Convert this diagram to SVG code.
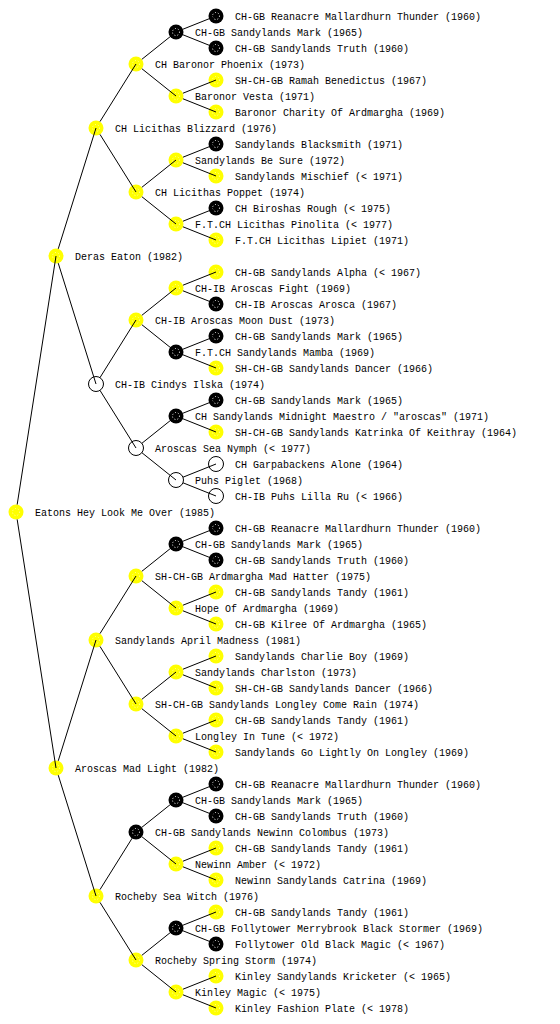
<svg xmlns="http://www.w3.org/2000/svg" width="560" height="1024" viewBox="0 0 560 1024">
<style>
text{font-family:"Liberation Mono","DejaVu Sans Mono",monospace;font-size:10px;fill:#000}
.y circle.c{fill:#ffff00;stroke:none}
.b circle.c{fill:#000;stroke:none}
.w circle.c{fill:#fff;stroke:#000;stroke-width:1}
.y circle.r{fill:none;stroke:#ffffa8;stroke-width:1;stroke-dasharray:1 2}
.b circle.r{fill:none;stroke:#fff;stroke-width:1;stroke-dasharray:1 2}
#connectors path{stroke:#000;stroke-width:1;fill:none}
</style>
<rect width="560" height="1024" fill="#fff"/>
<g id="nodes">
<g id="n0" class="y"><circle class="c" cx="16" cy="512" r="7.5"/><circle class="r" cx="16" cy="512" r="3.5"/><text x="35" y="516">Eatons Hey Look Me Over (1985)</text></g>
<g id="n1" class="y"><circle class="c" cx="56" cy="256" r="7.5"/><circle class="r" cx="56" cy="256" r="3.5"/><text x="75" y="260">Deras Eaton (1982)</text></g>
<g id="n2" class="y"><circle class="c" cx="56" cy="768" r="7.5"/><circle class="r" cx="56" cy="768" r="3.5"/><text x="75" y="772">Aroscas Mad Light (1982)</text></g>
<g id="n3" class="y"><circle class="c" cx="96" cy="128" r="7.5"/><circle class="r" cx="96" cy="128" r="3.5"/><text x="115" y="132">CH Licithas Blizzard (1976)</text></g>
<g id="n4" class="w"><circle class="c" cx="96" cy="384" r="7.5"/><text x="115" y="388">CH-IB Cindys Ilska (1974)</text></g>
<g id="n5" class="y"><circle class="c" cx="96" cy="640" r="7.5"/><circle class="r" cx="96" cy="640" r="3.5"/><text x="115" y="644">Sandylands April Madness (1981)</text></g>
<g id="n6" class="y"><circle class="c" cx="96" cy="896" r="7.5"/><circle class="r" cx="96" cy="896" r="3.5"/><text x="115" y="900">Rocheby Sea Witch (1976)</text></g>
<g id="n7" class="y"><circle class="c" cx="136" cy="64" r="7.5"/><circle class="r" cx="136" cy="64" r="3.5"/><text x="155" y="68">CH Baronor Phoenix (1973)</text></g>
<g id="n8" class="y"><circle class="c" cx="136" cy="192" r="7.5"/><circle class="r" cx="136" cy="192" r="3.5"/><text x="155" y="196">CH Licithas Poppet (1974)</text></g>
<g id="n9" class="y"><circle class="c" cx="136" cy="320" r="7.5"/><circle class="r" cx="136" cy="320" r="3.5"/><text x="155" y="324">CH-IB Aroscas Moon Dust (1973)</text></g>
<g id="n10" class="w"><circle class="c" cx="136" cy="448" r="7.5"/><text x="155" y="452">Aroscas Sea Nymph (&lt; 1977)</text></g>
<g id="n11" class="y"><circle class="c" cx="136" cy="576" r="7.5"/><circle class="r" cx="136" cy="576" r="3.5"/><text x="155" y="580">SH-CH-GB Ardmargha Mad Hatter (1975)</text></g>
<g id="n12" class="y"><circle class="c" cx="136" cy="704" r="7.5"/><circle class="r" cx="136" cy="704" r="3.5"/><text x="155" y="708">SH-CH-GB Sandylands Longley Come Rain (1974)</text></g>
<g id="n13" class="b"><circle class="c" cx="136" cy="832" r="7.5"/><circle class="r" cx="136" cy="832" r="3.5"/><text x="155" y="836">CH-GB Sandylands Newinn Colombus (1973)</text></g>
<g id="n14" class="y"><circle class="c" cx="136" cy="960" r="7.5"/><circle class="r" cx="136" cy="960" r="3.5"/><text x="155" y="964">Rocheby Spring Storm (1974)</text></g>
<g id="n15" class="b"><circle class="c" cx="176" cy="32" r="7.5"/><circle class="r" cx="176" cy="32" r="3.5"/><text x="195" y="36">CH-GB Sandylands Mark (1965)</text></g>
<g id="n16" class="y"><circle class="c" cx="176" cy="96" r="7.5"/><circle class="r" cx="176" cy="96" r="3.5"/><text x="195" y="100">Baronor Vesta (1971)</text></g>
<g id="n17" class="y"><circle class="c" cx="176" cy="160" r="7.5"/><circle class="r" cx="176" cy="160" r="3.5"/><text x="195" y="164">Sandylands Be Sure (1972)</text></g>
<g id="n18" class="y"><circle class="c" cx="176" cy="224" r="7.5"/><circle class="r" cx="176" cy="224" r="3.5"/><text x="195" y="228">F.T.CH Licithas Pinolita (&lt; 1977)</text></g>
<g id="n19" class="y"><circle class="c" cx="176" cy="288" r="7.5"/><circle class="r" cx="176" cy="288" r="3.5"/><text x="195" y="292">CH-IB Aroscas Fight (1969)</text></g>
<g id="n20" class="b"><circle class="c" cx="176" cy="352" r="7.5"/><circle class="r" cx="176" cy="352" r="3.5"/><text x="195" y="356">F.T.CH Sandylands Mamba (1969)</text></g>
<g id="n21" class="b"><circle class="c" cx="176" cy="416" r="7.5"/><circle class="r" cx="176" cy="416" r="3.5"/><text x="195" y="420">CH Sandylands Midnight Maestro / "aroscas" (1971)</text></g>
<g id="n22" class="w"><circle class="c" cx="176" cy="480" r="7.5"/><text x="195" y="484">Puhs Piglet (1968)</text></g>
<g id="n23" class="b"><circle class="c" cx="176" cy="544" r="7.5"/><circle class="r" cx="176" cy="544" r="3.5"/><text x="195" y="548">CH-GB Sandylands Mark (1965)</text></g>
<g id="n24" class="y"><circle class="c" cx="176" cy="608" r="7.5"/><circle class="r" cx="176" cy="608" r="3.5"/><text x="195" y="612">Hope Of Ardmargha (1969)</text></g>
<g id="n25" class="y"><circle class="c" cx="176" cy="672" r="7.5"/><circle class="r" cx="176" cy="672" r="3.5"/><text x="195" y="676">Sandylands Charlston (1973)</text></g>
<g id="n26" class="y"><circle class="c" cx="176" cy="736" r="7.5"/><circle class="r" cx="176" cy="736" r="3.5"/><text x="195" y="740">Longley In Tune (&lt; 1972)</text></g>
<g id="n27" class="b"><circle class="c" cx="176" cy="800" r="7.5"/><circle class="r" cx="176" cy="800" r="3.5"/><text x="195" y="804">CH-GB Sandylands Mark (1965)</text></g>
<g id="n28" class="y"><circle class="c" cx="176" cy="864" r="7.5"/><circle class="r" cx="176" cy="864" r="3.5"/><text x="195" y="868">Newinn Amber (&lt; 1972)</text></g>
<g id="n29" class="b"><circle class="c" cx="176" cy="928" r="7.5"/><circle class="r" cx="176" cy="928" r="3.5"/><text x="195" y="932">CH-GB Follytower Merrybrook Black Stormer (1969)</text></g>
<g id="n30" class="y"><circle class="c" cx="176" cy="992" r="7.5"/><circle class="r" cx="176" cy="992" r="3.5"/><text x="195" y="996">Kinley Magic (&lt; 1975)</text></g>
<g id="n31" class="b"><circle class="c" cx="216" cy="16" r="7.5"/><circle class="r" cx="216" cy="16" r="3.5"/><text x="235" y="20">CH-GB Reanacre Mallardhurn Thunder (1960)</text></g>
<g id="n32" class="b"><circle class="c" cx="216" cy="48" r="7.5"/><circle class="r" cx="216" cy="48" r="3.5"/><text x="235" y="52">CH-GB Sandylands Truth (1960)</text></g>
<g id="n33" class="y"><circle class="c" cx="216" cy="80" r="7.5"/><circle class="r" cx="216" cy="80" r="3.5"/><text x="235" y="84">SH-CH-GB Ramah Benedictus (1967)</text></g>
<g id="n34" class="y"><circle class="c" cx="216" cy="112" r="7.5"/><circle class="r" cx="216" cy="112" r="3.5"/><text x="235" y="116">Baronor Charity Of Ardmargha (1969)</text></g>
<g id="n35" class="b"><circle class="c" cx="216" cy="144" r="7.5"/><circle class="r" cx="216" cy="144" r="3.5"/><text x="235" y="148">Sandylands Blacksmith (1971)</text></g>
<g id="n36" class="y"><circle class="c" cx="216" cy="176" r="7.5"/><circle class="r" cx="216" cy="176" r="3.5"/><text x="235" y="180">Sandylands Mischief (&lt; 1971)</text></g>
<g id="n37" class="b"><circle class="c" cx="216" cy="208" r="7.5"/><circle class="r" cx="216" cy="208" r="3.5"/><text x="235" y="212">CH Biroshas Rough (&lt; 1975)</text></g>
<g id="n38" class="y"><circle class="c" cx="216" cy="240" r="7.5"/><circle class="r" cx="216" cy="240" r="3.5"/><text x="235" y="244">F.T.CH Licithas Lipiet (1971)</text></g>
<g id="n39" class="y"><circle class="c" cx="216" cy="272" r="7.5"/><circle class="r" cx="216" cy="272" r="3.5"/><text x="235" y="276">CH-GB Sandylands Alpha (&lt; 1967)</text></g>
<g id="n40" class="b"><circle class="c" cx="216" cy="304" r="7.5"/><circle class="r" cx="216" cy="304" r="3.5"/><text x="235" y="308">CH-IB Aroscas Arosca (1967)</text></g>
<g id="n41" class="b"><circle class="c" cx="216" cy="336" r="7.5"/><circle class="r" cx="216" cy="336" r="3.5"/><text x="235" y="340">CH-GB Sandylands Mark (1965)</text></g>
<g id="n42" class="y"><circle class="c" cx="216" cy="368" r="7.5"/><circle class="r" cx="216" cy="368" r="3.5"/><text x="235" y="372">SH-CH-GB Sandylands Dancer (1966)</text></g>
<g id="n43" class="b"><circle class="c" cx="216" cy="400" r="7.5"/><circle class="r" cx="216" cy="400" r="3.5"/><text x="235" y="404">CH-GB Sandylands Mark (1965)</text></g>
<g id="n44" class="y"><circle class="c" cx="216" cy="432" r="7.5"/><circle class="r" cx="216" cy="432" r="3.5"/><text x="235" y="436">SH-CH-GB Sandylands Katrinka Of Keithray (1964)</text></g>
<g id="n45" class="w"><circle class="c" cx="216" cy="464" r="7.5"/><text x="235" y="468">CH Garpabackens Alone (1964)</text></g>
<g id="n46" class="w"><circle class="c" cx="216" cy="496" r="7.5"/><text x="235" y="500">CH-IB Puhs Lilla Ru (&lt; 1966)</text></g>
<g id="n47" class="b"><circle class="c" cx="216" cy="528" r="7.5"/><circle class="r" cx="216" cy="528" r="3.5"/><text x="235" y="532">CH-GB Reanacre Mallardhurn Thunder (1960)</text></g>
<g id="n48" class="b"><circle class="c" cx="216" cy="560" r="7.5"/><circle class="r" cx="216" cy="560" r="3.5"/><text x="235" y="564">CH-GB Sandylands Truth (1960)</text></g>
<g id="n49" class="y"><circle class="c" cx="216" cy="592" r="7.5"/><circle class="r" cx="216" cy="592" r="3.5"/><text x="235" y="596">CH-GB Sandylands Tandy (1961)</text></g>
<g id="n50" class="y"><circle class="c" cx="216" cy="624" r="7.5"/><circle class="r" cx="216" cy="624" r="3.5"/><text x="235" y="628">CH-GB Kilree Of Ardmargha (1965)</text></g>
<g id="n51" class="y"><circle class="c" cx="216" cy="656" r="7.5"/><circle class="r" cx="216" cy="656" r="3.5"/><text x="235" y="660">Sandylands Charlie Boy (1969)</text></g>
<g id="n52" class="y"><circle class="c" cx="216" cy="688" r="7.5"/><circle class="r" cx="216" cy="688" r="3.5"/><text x="235" y="692">SH-CH-GB Sandylands Dancer (1966)</text></g>
<g id="n53" class="y"><circle class="c" cx="216" cy="720" r="7.5"/><circle class="r" cx="216" cy="720" r="3.5"/><text x="235" y="724">CH-GB Sandylands Tandy (1961)</text></g>
<g id="n54" class="y"><circle class="c" cx="216" cy="752" r="7.5"/><circle class="r" cx="216" cy="752" r="3.5"/><text x="235" y="756">Sandylands Go Lightly On Longley (1969)</text></g>
<g id="n55" class="b"><circle class="c" cx="216" cy="784" r="7.5"/><circle class="r" cx="216" cy="784" r="3.5"/><text x="235" y="788">CH-GB Reanacre Mallardhurn Thunder (1960)</text></g>
<g id="n56" class="b"><circle class="c" cx="216" cy="816" r="7.5"/><circle class="r" cx="216" cy="816" r="3.5"/><text x="235" y="820">CH-GB Sandylands Truth (1960)</text></g>
<g id="n57" class="y"><circle class="c" cx="216" cy="848" r="7.5"/><circle class="r" cx="216" cy="848" r="3.5"/><text x="235" y="852">CH-GB Sandylands Tandy (1961)</text></g>
<g id="n58" class="y"><circle class="c" cx="216" cy="880" r="7.5"/><circle class="r" cx="216" cy="880" r="3.5"/><text x="235" y="884">Newinn Sandylands Catrina (1969)</text></g>
<g id="n59" class="y"><circle class="c" cx="216" cy="912" r="7.5"/><circle class="r" cx="216" cy="912" r="3.5"/><text x="235" y="916">CH-GB Sandylands Tandy (1961)</text></g>
<g id="n60" class="b"><circle class="c" cx="216" cy="944" r="7.5"/><circle class="r" cx="216" cy="944" r="3.5"/><text x="235" y="948">Follytower Old Black Magic (&lt; 1967)</text></g>
<g id="n61" class="y"><circle class="c" cx="216" cy="976" r="7.5"/><circle class="r" cx="216" cy="976" r="3.5"/><text x="235" y="980">Kinley Sandylands Kricketer (&lt; 1965)</text></g>
<g id="n62" class="y"><circle class="c" cx="216" cy="1008" r="7.5"/><circle class="r" cx="216" cy="1008" r="3.5"/><text x="235" y="1012">Kinley Fashion Plate (&lt; 1978)</text></g>
</g>
<g id="connectors">
<path d="M17.16 504.59L56 256M17.16 519.41L56 768"/>
<path d="M58.24 248.84L96 128M58.24 263.16L96 384M58.24 760.84L96 640M58.24 775.16L96 896"/>
<path d="M99.98 121.64L136 64M99.98 134.36L136 192M99.98 377.64L136 320M99.98 390.36L136 448M99.98 633.64L136 576M99.98 646.36L136 704M99.98 889.64L136 832M99.98 902.36L136 960"/>
<path d="M141.86 59.31L176 32M141.86 68.69L176 96M141.86 187.31L176 160M141.86 196.69L176 224M141.86 315.31L176 288M141.86 324.69L176 352M141.86 443.31L176 416M141.86 452.69L176 480M141.86 571.31L176 544M141.86 580.69L176 608M141.86 699.31L176 672M141.86 708.69L176 736M141.86 827.31L176 800M141.86 836.69L176 864M141.86 955.31L176 928M141.86 964.69L176 992"/>
<path d="M182.96 29.21L216 16M182.96 34.79L216 48M182.96 93.21L216 80M182.96 98.79L216 112M182.96 157.21L216 144M182.96 162.79L216 176M182.96 221.21L216 208M182.96 226.79L216 240M182.96 285.21L216 272M182.96 290.79L216 304M182.96 349.21L216 336M182.96 354.79L216 368M182.96 413.21L216 400M182.96 418.79L216 432M182.96 477.21L216 464M182.96 482.79L216 496M182.96 541.21L216 528M182.96 546.79L216 560M182.96 605.21L216 592M182.96 610.79L216 624M182.96 669.21L216 656M182.96 674.79L216 688M182.96 733.21L216 720M182.96 738.79L216 752M182.96 797.21L216 784M182.96 802.79L216 816M182.96 861.21L216 848M182.96 866.79L216 880M182.96 925.21L216 912M182.96 930.79L216 944M182.96 989.21L216 976M182.96 994.79L216 1008"/>
</g>
</svg>
